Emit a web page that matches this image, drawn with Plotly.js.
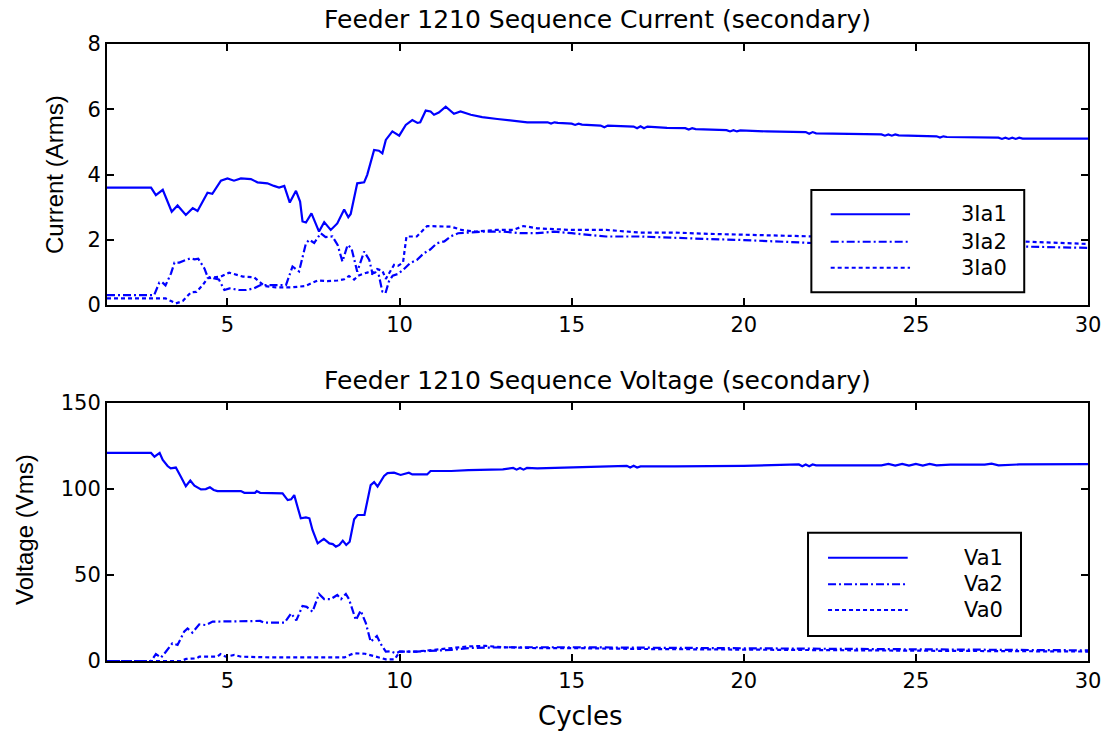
<!DOCTYPE html>
<html>
<head>
<meta charset="utf-8">
<script src="https://cdn.plot.ly/plotly-3.0.1.min.js"></script>
<style>html,body{margin:0;padding:0;background:#fff;}#chart{width:1118px;height:732px;}</style>
</head>
<body>
<div id="chart"></div>
<script>
// ---- Top panel: sequence currents (A rms, secondary) ----
var ia1X = [
1.5, 2.78, 2.92, 3.12, 3.38, 3.55, 3.79, 3.99, 4.13, 4.42,
4.56, 4.81, 5.0, 5.19, 5.39, 5.68, 5.87, 6.16, 6.35, 6.5,
6.65, 6.81, 6.99, 7.11, 7.18, 7.28, 7.44, 7.66, 7.81, 8.0,
8.19, 8.39, 8.51, 8.58, 8.77, 8.97, 9.06, 9.26, 9.4, 9.5,
9.6, 9.79, 9.99, 10.18, 10.37, 10.52, 10.6, 10.76, 10.9, 11.0,
11.14, 11.34, 11.58, 11.77, 12.07, 12.4, 12.84, 13.32, 13.71, 14.3,
14.4, 14.5, 14.6, 15.0, 15.1, 15.2, 15.3, 15.84, 15.95, 16.05,
16.8, 16.9, 17.0, 17.1, 17.2, 17.77, 18.3, 18.4, 18.5, 18.6,
19.5, 19.6, 19.7, 19.8, 19.9, 20.67, 21.8, 21.9, 22.0, 22.1,
24.0, 24.1, 24.2, 24.3, 24.4, 24.5, 25.6, 25.7, 25.8, 25.9,
27.4, 27.5, 27.6, 27.7, 27.8, 27.9, 28.0, 28.1, 28.3, 30];
var ia1Y = [
3.6, 3.6, 3.37, 3.53, 2.86, 3.05, 2.76, 2.97, 2.88, 3.44,
3.41, 3.81, 3.88, 3.81, 3.88, 3.86, 3.76, 3.73, 3.65, 3.6,
3.65, 3.14, 3.5, 3.17, 2.56, 2.53, 2.81, 2.25, 2.54, 2.3,
2.5, 2.93, 2.69, 2.79, 3.73, 3.76, 3.99, 4.75, 4.73, 4.65,
5.06, 5.32, 5.19, 5.52, 5.67, 5.58, 5.6, 5.96, 5.93, 5.83,
5.9, 6.08, 5.86, 5.93, 5.83, 5.76, 5.7, 5.65, 5.6, 5.6,
5.56, 5.6, 5.58, 5.56, 5.52, 5.56, 5.53, 5.5, 5.45, 5.5,
5.47, 5.42, 5.48, 5.42, 5.47, 5.43, 5.42, 5.38, 5.42, 5.39,
5.36, 5.32, 5.36, 5.32, 5.35, 5.32, 5.3, 5.25, 5.3, 5.26,
5.23, 5.19, 5.23, 5.19, 5.23, 5.2, 5.17, 5.13, 5.17, 5.15,
5.13, 5.09, 5.13, 5.09, 5.13, 5.09, 5.13, 5.1, 5.1, 5.1];

var ia2X = [
1.5, 2.87, 3.02, 3.1, 3.2, 3.36, 3.46, 3.6, 3.79, 3.93,
4.05, 4.15, 4.33, 4.42, 4.58, 4.75, 4.91, 5.06, 5.34, 5.55,
5.77, 5.96, 6.35, 6.7, 6.89, 7.08, 7.28, 7.38, 7.52, 7.71,
7.85, 8.05, 8.2, 8.34, 8.49, 8.6, 8.77, 8.97, 9.12, 9.21,
9.3, 9.4, 9.5, 9.59, 9.69, 9.8, 9.95, 10.1, 10.3, 10.5,
10.7, 10.89, 11.08, 11.3, 11.48, 11.7, 12.0, 12.5, 13.0, 13.5,
14.0, 14.5, 15.0, 16.0, 17.0, 18.0, 19.0, 20.0, 21.0, 22.0,
24.0, 26.0, 28.0, 30.0];
var ia2Y = [
0.3, 0.3, 0.69, 0.7, 0.6, 0.97, 1.3, 1.3, 1.38, 1.43,
1.4, 1.42, 1.12, 0.87, 0.82, 0.78, 0.46, 0.51, 0.46, 0.46,
0.51, 0.61, 0.61, 0.61, 1.18, 1.03, 1.89, 2.0, 1.9, 2.2,
2.08, 2.1, 1.84, 1.33, 1.84, 1.75, 1.02, 1.64, 1.38, 0.97,
1.0, 0.9, 0.41, 0.36, 0.72, 0.9, 0.95, 1.07, 1.28, 1.38,
1.58, 1.7, 1.89, 1.95, 2.1, 2.2, 2.22, 2.25, 2.25, 2.2,
2.2, 2.25, 2.2, 2.1, 2.1, 2.05, 2.02, 1.99, 1.95, 1.9,
1.88, 1.83, 1.8, 1.75];

var ia0X = [
1.5, 2.87, 3.2, 3.36, 3.5, 3.7, 3.94, 4.1, 4.28, 4.42,
4.58, 4.81, 5.05, 5.25, 5.45, 5.77, 5.92, 6.08, 6.4, 6.85,
7.25, 7.62, 7.9, 8.2, 8.39, 8.53, 8.68, 8.8, 9.07, 9.2,
9.35, 9.5, 9.6, 9.84, 9.95, 10.1, 10.2, 10.5, 10.8, 11.2,
11.5, 11.8, 12.2, 12.8, 13.3, 13.6, 14.0, 15.0, 16.0, 17.0,
18.0, 19.0, 20.0, 21.0, 22.0, 23.0, 24.0, 26.0, 28.0, 30.0];
var ia0Y = [
0.2, 0.2, 0.2, 0.12, 0.05, 0.12, 0.39, 0.4, 0.61, 0.82,
0.85, 0.87, 0.99, 0.92, 0.87, 0.85, 0.72, 0.58, 0.54, 0.54,
0.58, 0.75, 0.73, 0.75, 0.79, 0.89, 0.78, 0.9, 1.0, 0.95,
1.1, 1.05, 0.8, 1.23, 1.2, 1.3, 2.1, 2.1, 2.42, 2.42,
2.4, 2.3, 2.25, 2.3, 2.3, 2.42, 2.35, 2.3, 2.3, 2.22,
2.22, 2.18, 2.15, 2.13, 2.1, 2.08, 2.05, 2.0, 1.95, 1.87];

// ---- Bottom panel: sequence voltages (V rms, secondary) ----
var va1X = [
1.5, 2.78, 2.88, 3.03, 3.12, 3.26, 3.35, 3.5, 3.65, 3.79,
3.92, 4.04, 4.23, 4.37, 4.49, 4.6, 4.71, 5.39, 5.49, 5.8,
5.85, 5.95, 6.6, 6.75, 6.85, 6.94, 7.03, 7.13, 7.28, 7.38,
7.47, 7.62, 7.8, 7.96, 8.06, 8.15, 8.25, 8.35, 8.45, 8.55,
8.68, 8.78, 8.98, 9.16, 9.26, 9.36, 9.55, 9.65, 9.84, 10.03,
10.27, 10.37, 10.8, 10.9, 11.5, 12.0, 13.0, 13.3, 13.4, 13.5,
13.6, 13.7, 14.0, 15.0, 16.0, 16.6, 16.7, 16.8, 16.9, 17.0,
18.0, 20.0, 21.6, 21.7, 21.8, 21.9, 22.0, 22.1, 24.0, 24.2,
24.4, 24.6, 24.8, 25.0, 25.2, 25.4, 25.6, 26.0, 26.5, 27.0,
27.2, 27.4, 28.0, 30.0];
var va1Y = [
121, 121, 118.8, 121, 117, 113.4, 112, 112.5, 107, 101.7,
105, 102, 99.8, 100, 101, 99.5, 98.8, 98.8, 97.8, 97.8,
98.8, 97.8, 97.5, 93.6, 94, 96.5, 90, 83, 83.5, 83,
76.2, 68.4, 71, 68.4, 68, 66.5, 67.5, 70, 67.5, 69.4,
82.4, 84.9, 85, 102.3, 104, 101.5, 107.6, 109.3, 109.5, 108.2,
109.5, 108.5, 108.5, 110.5, 110.5, 111, 111.5, 112.3, 111.3, 112.3,
111.3, 112.3, 112, 112.5, 112.8, 113.5, 112.5, 113.5, 112.5, 113.2,
113.2, 113.5, 114.3, 113.3, 114.3, 113.3, 114.3, 113.8, 113.8, 114.6,
113.6, 114.6, 113.6, 114.6, 113.6, 114.6, 113.8, 114.2, 114.2, 114.2,
114.8, 113.8, 114.3, 114.5];

var va2X = [
1.5, 2.78, 2.92, 3.07, 3.21, 3.4, 3.55, 3.74, 3.84, 3.98,
4.18, 4.38, 4.57, 5.35, 5.95, 6.06, 6.66, 6.85, 7.0, 7.18,
7.3, 7.47, 7.66, 7.81, 8.0, 8.19, 8.3, 8.44, 8.53, 8.73,
8.87, 9.02, 9.16, 9.34, 9.45, 9.6, 9.75, 9.89, 10.0, 10.5,
11.0, 11.5, 12.0, 13.0, 15.0, 17.0, 20.0, 25.0, 30.0];
var va2Y = [
0, 0, 4, 2, 5.4, 10.3, 9.3, 17, 18.9, 16.5,
21.3, 20.9, 22.9, 23.3, 23.3, 22.3, 22.3, 27.7, 23.6, 32,
31.5, 28.7, 39, 36, 36, 38.4, 36, 39, 36, 23.8,
29.3, 22, 11.2, 14.5, 10, 5.4, 5.6, 4.5, 5.4, 5.5,
6, 6.5, 7.5, 8, 8, 7.7, 7.3, 6.8, 6.2];

var va0X = [
1.5, 3.65, 3.8, 4.1, 4.18, 4.7, 4.8, 4.95, 5.2, 5.4,
6.27, 8.4, 8.55, 8.68, 9.0, 9.3, 9.6, 9.86, 10.0, 10.5,
11.0, 11.5, 12.0, 12.5, 13.0, 14.0, 15.0, 17.0, 20.0, 25.0, 30.0];
var va0Y = [
0, 0, 1.2, 1.5, 2.5, 2.5, 4, 2.5, 3.5, 2.5,
2.1, 2.1, 3.5, 4.5, 4.2, 2.5, 1, 1, 5.4, 5.5,
6.5, 7.5, 8.5, 8.8, 8, 7.5, 7.5, 7, 6.5, 6, 5.5];

var currentNames = ["3Ia1", "3Ia2", "3Ia0"];
var voltageNames = ["Va1", "Va2", "Va0"];
var xTicks = [5, 10, 15, 20, 25, 30];
var yTicksTop = [0, 2, 4, 6, 8];
var yTicksBottom = [0, 50, 100, 150];

// ---- styling ----
var BLUE = "#0000ff";
var FONT = "DejaVu Sans, Liberation Sans, sans-serif";
var dashes = ["solid", "8px,3px,2px,3px", "4px,3px"];

function tr(x, y, name, k, xa, ya) {
  return {x: x, y: y, name: name, type: "scatter", mode: "lines",
          xaxis: xa, yaxis: ya, showlegend: false,
          line: {color: BLUE, width: 2.2, dash: dashes[k]}, hoverinfo: "x+y+name"};
}

var data = [
  tr(ia1X, ia1Y, currentNames[0], 0, "x", "y"),
  tr(ia2X, ia2Y, currentNames[1], 1, "x", "y"),
  tr(ia0X, ia0Y, currentNames[2], 2, "x", "y"),
  tr(va1X, va1Y, voltageNames[0], 0, "x2", "y2"),
  tr(va2X, va2Y, voltageNames[1], 1, "x2", "y2"),
  tr(va0X, va0Y, voltageNames[2], 2, "x2", "y2")
];

function axisBase() {
  return {showline: true, linecolor: "#000", linewidth: 2, mirror: "ticks",
          ticks: "inside", ticklen: 7, tickwidth: 2, tickcolor: "#000",
          showgrid: false, zeroline: false, fixedrange: true,
          tickfont: {family: FONT, size: 21, color: "#000"}};
}
var xa = Object.assign(axisBase(), {range: [1.5, 30], tickvals: xTicks, anchor: "y"});
var xa2 = Object.assign(axisBase(), {range: [1.5, 30], tickvals: xTicks, anchor: "y2"});
var ya = Object.assign(axisBase(), {range: [0, 8], tickvals: yTicksTop, domain: [0.577, 1], anchor: "x"});
var ya2 = Object.assign(axisBase(), {range: [0, 150], tickvals: yTicksBottom, domain: [0, 0.418], anchor: "x2"});

// legend boxes drawn in paper coordinates
var shapes = [];
var annotations = [];
function legendBox(x0, x1, y0, y1, sx0, sx1, ys, tx, names) {
  shapes.push({type: "rect", xref: "paper", yref: "paper", x0: x0, x1: x1, y0: y0, y1: y1,
               line: {color: "#000", width: 2}, fillcolor: "#fff", layer: "above"});
  for (var i = 0; i < 3; i++) {
    shapes.push({type: "line", xref: "paper", yref: "paper", x0: sx0, x1: sx1, y0: ys[i], y1: ys[i],
                 line: {color: BLUE, width: 2, dash: dashes[i]}, layer: "above"});
    annotations.push({xref: "paper", yref: "paper", x: tx, y: ys[i], xanchor: "right", yanchor: "middle",
                      text: names[i], showarrow: false, borderpad: 0,
                      font: {family: FONT, size: 21, color: "#000"}});
  }
}
legendBox(0.718, 0.935, 0.5976, 0.7634, 0.7377, 0.8186, [0.724, 0.6796, 0.6374], 0.9185, currentNames);
legendBox(0.7146, 0.9317, 0.0405, 0.2079, 0.735, 0.8162, [0.1674, 0.1243, 0.0827], 0.9144, voltageNames);

var tf = {family: FONT, size: 25, color: "#000"};
annotations.push({xref: "paper", yref: "paper", x: 0.5, y: 1.039, xanchor: "center", yanchor: "middle",
                  text: "Feeder 1210 Sequence Current (secondary)", showarrow: false, font: tf});
annotations.push({xref: "paper", yref: "paper", x: 0.5, y: 0.4554, xanchor: "center", yanchor: "middle",
                  text: "Feeder 1210 Sequence Voltage (secondary)", showarrow: false, font: tf});
var lf = {family: "Liberation Sans, Arial, sans-serif", size: 24, color: "#000"};
annotations.push({xref: "paper", yref: "paper", x: -0.053, y: 0.7877, xanchor: "center", yanchor: "middle",
                  textangle: -90, text: "Current (Arms)", showarrow: false, font: lf});
annotations.push({xref: "paper", yref: "paper", x: -0.0846, y: 0.2123, xanchor: "center", yanchor: "middle",
                  textangle: -90, text: "Voltage (Vms)", showarrow: false, font: lf});
annotations.push({xref: "paper", yref: "paper", x: 0.483, y: -0.0891, xanchor: "center", yanchor: "middle",
                  text: "Cycles", showarrow: false, font: {family: FONT, size: 26, color: "#000"}});

var layout = {
  width: 1118, height: 732,
  margin: {l: 107, r: 30, t: 44, b: 71, pad: 0},
  paper_bgcolor: "#fff", plot_bgcolor: "#fff",
  showlegend: false,
  xaxis: xa, yaxis: ya, xaxis2: xa2, yaxis2: ya2,
  shapes: shapes, annotations: annotations,
  font: {family: FONT, color: "#000"}
};

Plotly.newPlot("chart", data, layout, {displayModeBar: false, staticPlot: true});
</script>
</body>
</html>
